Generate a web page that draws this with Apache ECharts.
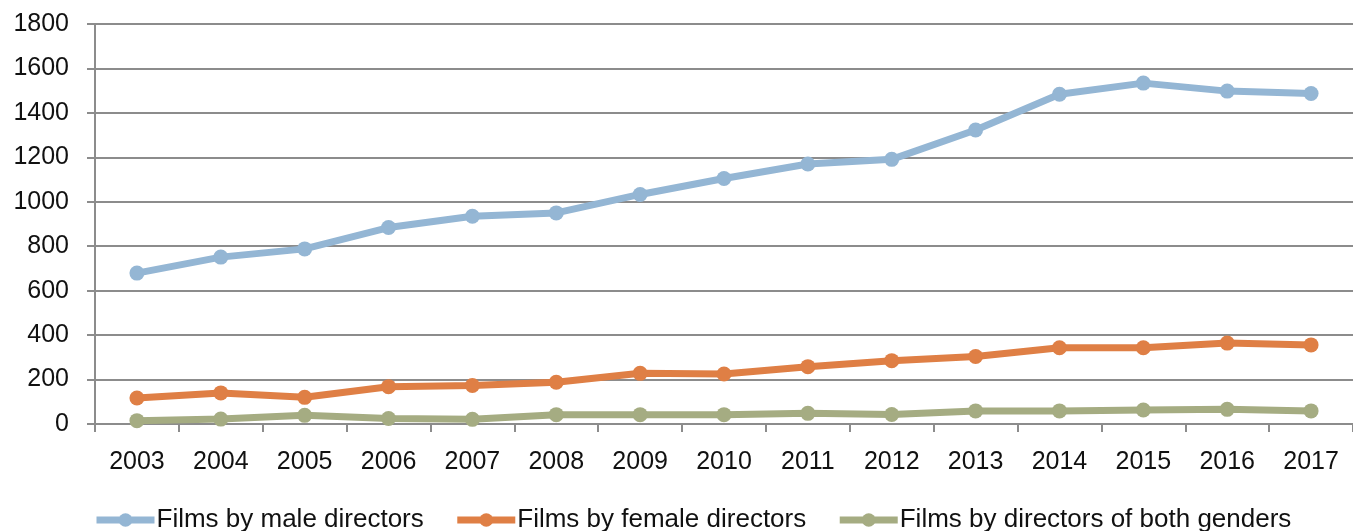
<!DOCTYPE html>
<html>
<head>
<meta charset="utf-8">
<script src="https://cdn.jsdelivr.net/npm/echarts@6/dist/echarts.min.js"></script>
<style>
  html, body { margin: 0; padding: 0; background: #fff; }
  #chart { width: 1353px; height: 531px; }
</style>
</head>
<body>
<div id="chart"></div>
<script>
const years = ["2003", "2004", "2005", "2006", "2007", "2008", "2009", "2010", "2011", "2012", "2013", "2014", "2015", "2016", "2017"];
const maleDirectors = [679, 751, 788, 884, 935, 950, 1033, 1105, 1170, 1191, 1323, 1484, 1534, 1498, 1487];
const femaleDirectors = [117, 140, 120, 168, 173, 188, 228, 225, 258, 285, 304, 343, 343, 364, 356];
const bothGenders = [15, 22, 39, 25, 21, 42, 42, 42, 48, 43, 59, 59, 63, 66, 59];

const font = "Liberation Sans";
const gray = "#8c8c8c";

function line(name, data, color) {
  return {
    name: name,
    type: "line",
    data: data,
    symbol: "circle",
    symbolSize: 15,
    lineStyle: { width: 7, color: color },
    itemStyle: { color: color },
    emphasis: { disabled: true },
    animation: false,
  };
}

const chart = echarts.init(document.getElementById("chart"));
const option = {
  backgroundColor: "#fff",
  grid: { left: 95, right: 0, top: 24, bottom: 107 },
  legend: {
    left: 88,
    top: 502,
    itemWidth: 58,
    itemHeight: 17,
    itemGap: 30,
    lineStyle: { width: 7 },
    textStyle: { fontFamily: font, fontSize: 26, color: "#111", padding: [0, 0, 0, -3] },
    data: ["Films by male directors", "Films by female directors", "Films by directors of both genders"],
  },
  xAxis: {
    type: "category",
    data: years,
    boundaryGap: true,
    axisLine: { lineStyle: { color: gray, width: 2 } },
    axisTick: { show: true, length: 8, lineStyle: { color: gray, width: 2 } },
    axisLabel: { fontFamily: font, fontSize: 25, color: "#111", margin: 26 },
  },
  yAxis: {
    type: "value",
    min: 0,
    max: 1800,
    interval: 200,
    axisLine: { show: true, lineStyle: { color: gray, width: 2 } },
    axisTick: { show: true, length: 8, lineStyle: { color: gray, width: 2 } },
    splitLine: { lineStyle: { color: gray, width: 2 } },
    axisLabel: {
      fontFamily: font,
      fontSize: 25,
      color: "#111",
      margin: 26,
      formatter: (v) => String(v),
    },
  },
  series: [
    line("Films by male directors", maleDirectors, "#94b6d4"),
    line("Films by female directors", femaleDirectors, "#df7f45"),
    line("Films by directors of both genders", bothGenders, "#a5ac82"),
  ],
};
chart.setOption(option);
</script>
</body>
</html>
